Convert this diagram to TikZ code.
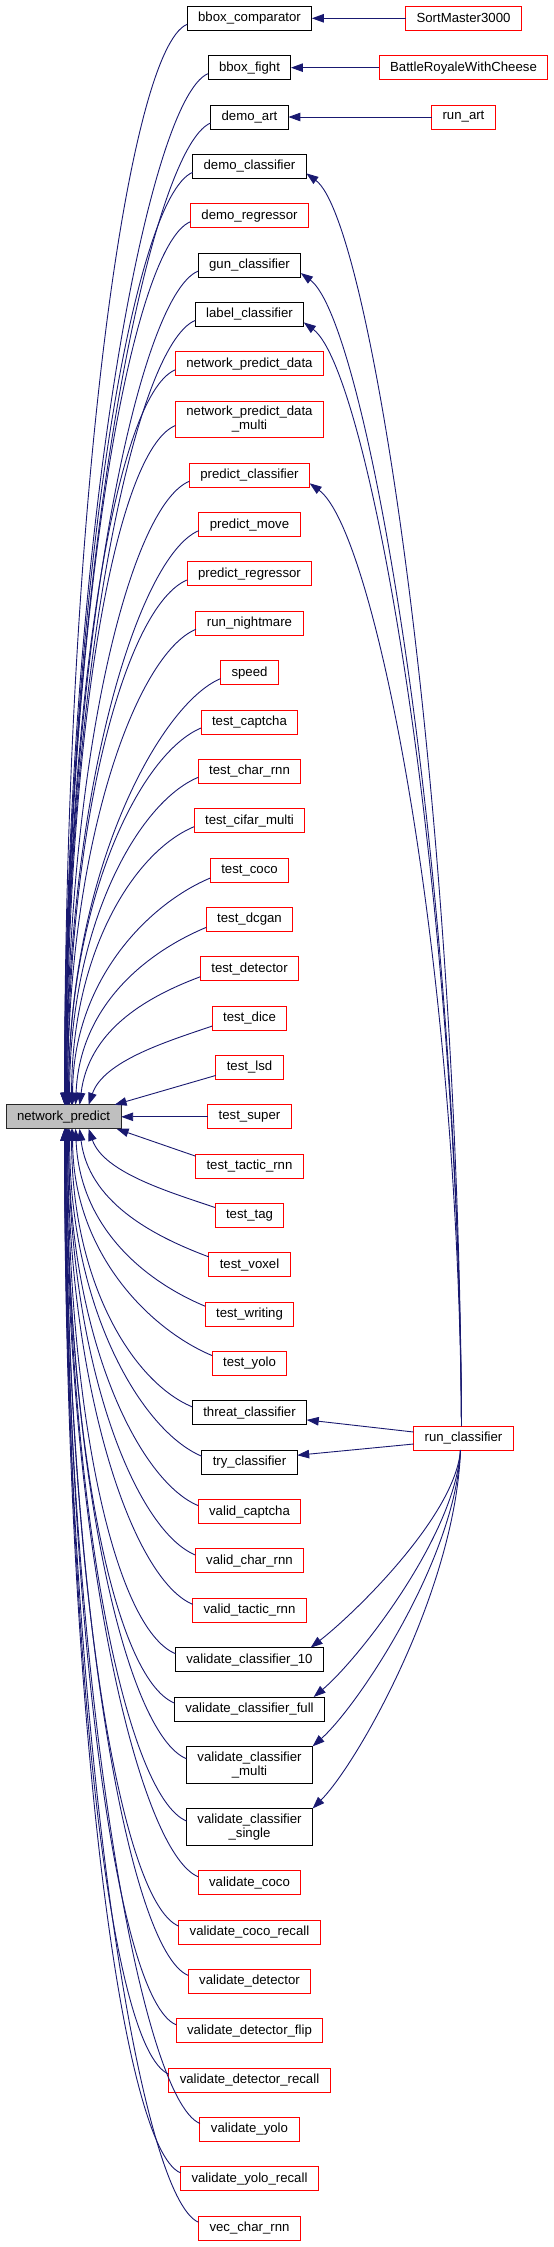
\documentclass[tikz,border=0pt]{standalone}
\usepackage{fontspec}
\setmainfont{Liberation Sans}
\usetikzlibrary{positioning,arrows.meta}
\definecolor{edgeblue}{HTML}{191970}
\definecolor{fnred}{HTML}{FF0000}
\definecolor{rootgray}{HTML}{BFBFBF}

\begin{document}
\begin{tikzpicture}[
        x=1pt, y=1pt,
        >={Triangle[length=12pt,width=8.5pt]},
        node distance=25.35pt,
        fnbox/.style={
            rectangle,
            draw=black,
            line width=1pt,
            fill=white,
            outer sep=0pt,
            minimum height=24pt,
            inner xsep=11pt,
            inner ysep=5.3pt,
            align=center,
            font=\fontsize{13.2pt}{14pt}\selectfont
        },
        redbox/.style={
            fnbox,
            draw=fnred
        },
        rootbox/.style={
            fnbox,
            draw=black!85,
            fill=rootgray
        },
        callarrow/.style={
            ->,
            draw=edgeblue,
            line width=0.9pt
        }
    ]
    \useasboundingbox (0,0) rectangle (554,-2247);

    % Callers (one column)
    \node[fnbox] (bboxComparator) at (249.5,-18.3) {bbox\_comparator};
    \node[fnbox, below=of bboxComparator] (bboxFight) {bbox\_fight};
    \node[fnbox, below=of bboxFight] (demoArt) {demo\_art};
    \node[fnbox, below=of demoArt] (demoClassifier) {demo\_classifier};
    \node[redbox, below=of demoClassifier] (demoRegressor) {demo\_regressor};
    \node[fnbox, below=of demoRegressor] (gunClassifier) {gun\_classifier};
    \node[fnbox, below=of gunClassifier] (labelClassifier) {label\_classifier};
    \node[redbox, below=of labelClassifier] (npData) {network\_predict\_data};
    \node[redbox, below=of npData] (npDataMulti) {network\_predict\_data\\\_multi};
    \node[redbox, below=of npDataMulti] (predictClassifier) {predict\_classifier};
    \node[redbox, below=of predictClassifier] (predictMove) {predict\_move};
    \node[redbox, below=of predictMove] (predictRegressor) {predict\_regressor};
    \node[redbox, below=of predictRegressor] (runNightmare) {run\_nightmare};
    \node[redbox, below=of runNightmare] (speed) {speed};
    \node[redbox, below=of speed] (testCaptcha) {test\_captcha};
    \node[redbox, below=of testCaptcha] (testCharRnn) {test\_char\_rnn};
    \node[redbox, below=of testCharRnn] (testCifarMulti) {test\_cifar\_multi};
    \node[redbox, below=of testCifarMulti] (testCoco) {test\_coco};
    \node[redbox, below=of testCoco] (testDcgan) {test\_dcgan};
    \node[redbox, below=of testDcgan] (testDetector) {test\_detector};
    \node[redbox, below=of testDetector] (testDice) {test\_dice};
    \node[redbox, below=of testDice] (testLsd) {test\_lsd};
    \node[redbox, below=of testLsd] (testSuper) {test\_super};
    \node[redbox, below=of testSuper] (testTacticRnn) {test\_tactic\_rnn};
    \node[redbox, below=of testTacticRnn] (testTag) {test\_tag};
    \node[redbox, below=of testTag] (testVoxel) {test\_voxel};
    \node[redbox, below=of testVoxel] (testWriting) {test\_writing};
    \node[redbox, below=of testWriting] (testYolo) {test\_yolo};
    \node[fnbox, below=of testYolo] (threatClassifier) {threat\_classifier};
    \node[fnbox, below=of threatClassifier] (tryClassifier) {try\_classifier};
    \node[redbox, below=of tryClassifier] (validCaptcha) {valid\_captcha};
    \node[redbox, below=of validCaptcha] (validCharRnn) {valid\_char\_rnn};
    \node[redbox, below=of validCharRnn] (validTacticRnn) {valid\_tactic\_rnn};
    \node[fnbox, below=of validTacticRnn] (validateC10) {validate\_classifier\_10};
    \node[fnbox, below=of validateC10] (validateCFull) {validate\_classifier\_full};
    \node[fnbox, below=of validateCFull] (validateCMulti) {validate\_classifier\\\_multi};
    \node[fnbox, below=of validateCMulti] (validateCSingle) {validate\_classifier\\\_single};
    \node[redbox, below=of validateCSingle] (validateCoco) {validate\_coco};
    \node[redbox, below=of validateCoco] (validateCocoRecall) {validate\_coco\_recall};
    \node[redbox, below=of validateCocoRecall] (validateDetector) {validate\_detector};
    \node[redbox, below=of validateDetector] (validateDetectorFlip) {validate\_detector\_flip};
    \node[redbox, below=of validateDetectorFlip] (validateDetectorRecall) {validate\_detector\_recall};
    \node[redbox, below=of validateDetectorRecall] (validateYolo) {validate\_yolo};
    \node[redbox, below=of validateYolo] (validateYoloRecall) {validate\_yolo\_recall};
    \node[redbox, below=of validateYoloRecall] (vecCharRnn) {vec\_char\_rnn};

    % Root function
    \node[rootbox, left=86.5pt of testSuper] (np) {network\_predict};

    % Callers of the callers
    \node[redbox] (runClassifier) at (463.5,-1438) {run\_classifier};
    \node[redbox] (sortMaster) at (runClassifier |- bboxComparator) {SortMaster3000};
    \node[redbox] (battleRoyale) at (runClassifier |- bboxFight) {BattleRoyaleWithCheese};
    \node[redbox] (runArt) at (runClassifier |- demoArt) {run\_art};

    % Arrows: upper callers -> network_predict
    \draw[callarrow] ([yshift=-6pt]bboxComparator.west) .. controls +(-60,-25) and +(0,594) .. ([xshift=1pt]np.north);
    \draw[callarrow] ([yshift=-6pt]bboxFight.west) .. controls +(-60,-25) and +(0,567) .. ([xshift=1pt]np.north);
    \draw[callarrow] ([yshift=-6pt]demoArt.west) .. controls +(-60,-25) and +(0,540) .. ([xshift=1pt]np.north);
    \draw[callarrow] ([yshift=-6pt]demoClassifier.west) .. controls +(-60,-25) and +(0,513) .. ([xshift=2pt]np.north);
    \draw[callarrow] ([yshift=-6pt]demoRegressor.west) .. controls +(-60,-25) and +(0,486) .. ([xshift=2pt]np.north);
    \draw[callarrow] ([yshift=-6pt]gunClassifier.west) .. controls +(-60,-25) and +(0,459) .. ([xshift=2pt]np.north);
    \draw[callarrow] ([yshift=-6pt]labelClassifier.west) .. controls +(-60,-25) and +(0,432) .. ([xshift=2pt]np.north);
    \draw[callarrow] ([yshift=-6pt]npData.west) .. controls +(-60,-25) and +(0,404) .. ([xshift=2pt]np.north);
    \draw[callarrow] ([yshift=-6pt]npDataMulti.west) .. controls +(-60,-25) and +(0,374) .. ([xshift=3pt]np.north);
    \draw[callarrow] ([yshift=-6pt]predictClassifier.west) .. controls +(-60,-25) and +(0,343) .. ([xshift=3pt]np.north);
    \draw[callarrow] ([yshift=-6pt]predictMove.west) .. controls +(-60,-25) and +(0,316) .. ([xshift=3pt]np.north);
    \draw[callarrow] ([yshift=-6pt]predictRegressor.west) .. controls +(-60,-25) and +(0,289) .. ([xshift=4pt]np.north);
    \draw[callarrow] ([yshift=-6pt]runNightmare.west) .. controls +(-60,-25) and +(0,261) .. ([xshift=4pt]np.north);
    \draw[callarrow] ([yshift=-6pt]speed.west) .. controls +(-60,-25) and +(0,234) .. ([xshift=5pt]np.north);
    \draw[callarrow] ([yshift=-6pt]testCaptcha.west) .. controls +(-60,-25) and +(0,207) .. ([xshift=5pt]np.north);
    \draw[callarrow] ([yshift=-6pt]testCharRnn.west) .. controls +(-60,-25) and +(0,180) .. ([xshift=6pt]np.north);
    \draw[callarrow] ([yshift=-6pt]testCifarMulti.west) .. controls +(-60,-25) and +(0,153) .. ([xshift=8pt]np.north);
    \draw[callarrow] ([yshift=-8pt]testCoco.west) .. controls +(-60,-25) and +(0,126) .. ([xshift=9pt]np.north);
    \draw[callarrow] ([yshift=-8pt]testDcgan.west) .. controls +(-60,-25) and +(4,99) .. ([xshift=12pt]np.north);
    \draw[callarrow] ([yshift=-8pt]testDetector.west) .. controls +(-59,-22) and +(9,72) .. ([xshift=16pt]np.north);
    \draw[callarrow] ([yshift=-8pt]testDice.west) .. controls +(-44,-15) and +(15,44) .. ([xshift=25pt]np.north);
    \draw[callarrow] ([yshift=-8pt]testLsd.west) -- ([xshift=51pt]np.north);

    % Arrow: test_super -> network_predict
    \draw[callarrow] (testSuper) -- (np);

    % Arrows: lower callers -> network_predict
    \draw[callarrow] ([yshift=10pt]testTacticRnn.west) -- ([xshift=53pt]np.south);
    \draw[callarrow] ([yshift=8pt]testTag.west) .. controls +(-44,15) and +(15,-44) .. ([xshift=25pt]np.south);
    \draw[callarrow] ([yshift=8pt]testVoxel.west) .. controls +(-59,22) and +(9,-72) .. ([xshift=16pt]np.south);
    \draw[callarrow] ([yshift=8pt]testWriting.west) .. controls +(-60,25) and +(4,-99) .. ([xshift=12pt]np.south);
    \draw[callarrow] ([yshift=8pt]testYolo.west) .. controls +(-60,25) and +(0,-126) .. ([xshift=9pt]np.south);
    \draw[callarrow] ([yshift=6pt]threatClassifier.west) .. controls +(-60,25) and +(0,-153) .. ([xshift=8pt]np.south);
    \draw[callarrow] ([yshift=6pt]tryClassifier.west) .. controls +(-60,25) and +(0,-180) .. ([xshift=6pt]np.south);
    \draw[callarrow] ([yshift=6pt]validCaptcha.west) .. controls +(-60,25) and +(0,-207) .. ([xshift=5pt]np.south);
    \draw[callarrow] ([yshift=6pt]validCharRnn.west) .. controls +(-60,25) and +(0,-234) .. ([xshift=5pt]np.south);
    \draw[callarrow] ([yshift=6pt]validTacticRnn.west) .. controls +(-60,25) and +(0,-261) .. ([xshift=4pt]np.south);
    \draw[callarrow] ([yshift=6pt]validateC10.west) .. controls +(-60,25) and +(0,-289) .. ([xshift=4pt]np.south);
    \draw[callarrow] ([yshift=6pt]validateCFull.west) .. controls +(-60,25) and +(0,-316) .. ([xshift=3pt]np.south);
    \draw[callarrow] ([yshift=6pt]validateCMulti.west) .. controls +(-60,25) and +(0,-347) .. ([xshift=3pt]np.south);
    \draw[callarrow] ([yshift=6pt]validateCSingle.west) .. controls +(-60,25) and +(0,-381) .. ([xshift=3pt]np.south);
    \draw[callarrow] ([yshift=6pt]validateCoco.west) .. controls +(-60,25) and +(0,-412) .. ([xshift=2pt]np.south);
    \draw[callarrow] ([yshift=6pt]validateCocoRecall.west) .. controls +(-60,25) and +(0,-439) .. ([xshift=2pt]np.south);
    \draw[callarrow] ([yshift=6pt]validateDetector.west) .. controls +(-60,25) and +(0,-466) .. ([xshift=2pt]np.south);
    \draw[callarrow] ([yshift=6pt]validateDetectorFlip.west) .. controls +(-60,25) and +(0,-493) .. ([xshift=2pt]np.south);
    \draw[callarrow] ([yshift=6pt]validateDetectorRecall.west) .. controls +(-60,25) and +(0,-520) .. ([xshift=2pt]np.south);
    \draw[callarrow] ([yshift=6pt]validateYolo.west) .. controls +(-60,25) and +(0,-547) .. ([xshift=1pt]np.south);
    \draw[callarrow] ([yshift=6pt]validateYoloRecall.west) .. controls +(-60,25) and +(0,-574) .. ([xshift=1pt]np.south);
    \draw[callarrow] ([yshift=6pt]vecCharRnn.west) .. controls +(-60,25) and +(0,-602) .. ([xshift=1pt]np.south);

    % Arrows: right column -> callers
    \draw[callarrow] (sortMaster) -- (bboxComparator);
    \draw[callarrow] (battleRoyale) -- (bboxFight);
    \draw[callarrow] (runArt) -- (demoArt);

    % Arrows: run_classifier -> classifiers above
    \draw[callarrow] ([xshift=-2pt]runClassifier.north) .. controls +(-3,626) and +(65,-48) .. ([yshift=-7pt]demoClassifier.east);
    \draw[callarrow] ([xshift=-2pt]runClassifier.north) .. controls +(-3,575) and +(65,-48) .. ([yshift=-8pt]gunClassifier.east);
    \draw[callarrow] ([xshift=-2pt]runClassifier.north) .. controls +(-3,552) and +(65,-48) .. ([yshift=-8pt]labelClassifier.east);
    \draw[callarrow] ([xshift=-2pt]runClassifier.north) .. controls +(-3,471) and +(65,-48) .. ([yshift=-8pt]predictClassifier.east);
    \draw[callarrow] ([yshift=6pt]runClassifier.west) -- ([yshift=-7pt]threatClassifier.east);
    \draw[callarrow] ([yshift=-6pt]runClassifier.west) -- ([yshift=7pt]tryClassifier.east);

    % Arrows: run_classifier -> classifiers below
    \draw[callarrow] ([xshift=-3pt]runClassifier.south) .. controls +(-5,-65) and +(45,35) .. ([xshift=-13pt]validateC10.north east);
    \draw[callarrow] ([xshift=-3pt]runClassifier.south) .. controls +(-5,-85) and +(45,38) .. ([xshift=-11pt]validateCFull.north east);
    \draw[callarrow] ([xshift=-3pt]runClassifier.south) .. controls +(-5,-110) and +(45,40) .. (validateCMulti.north east);
    \draw[callarrow] ([xshift=-3pt]runClassifier.south) .. controls +(-5,-140) and +(45,45) .. (validateCSingle.north east);

\end{tikzpicture}
\end{document}
